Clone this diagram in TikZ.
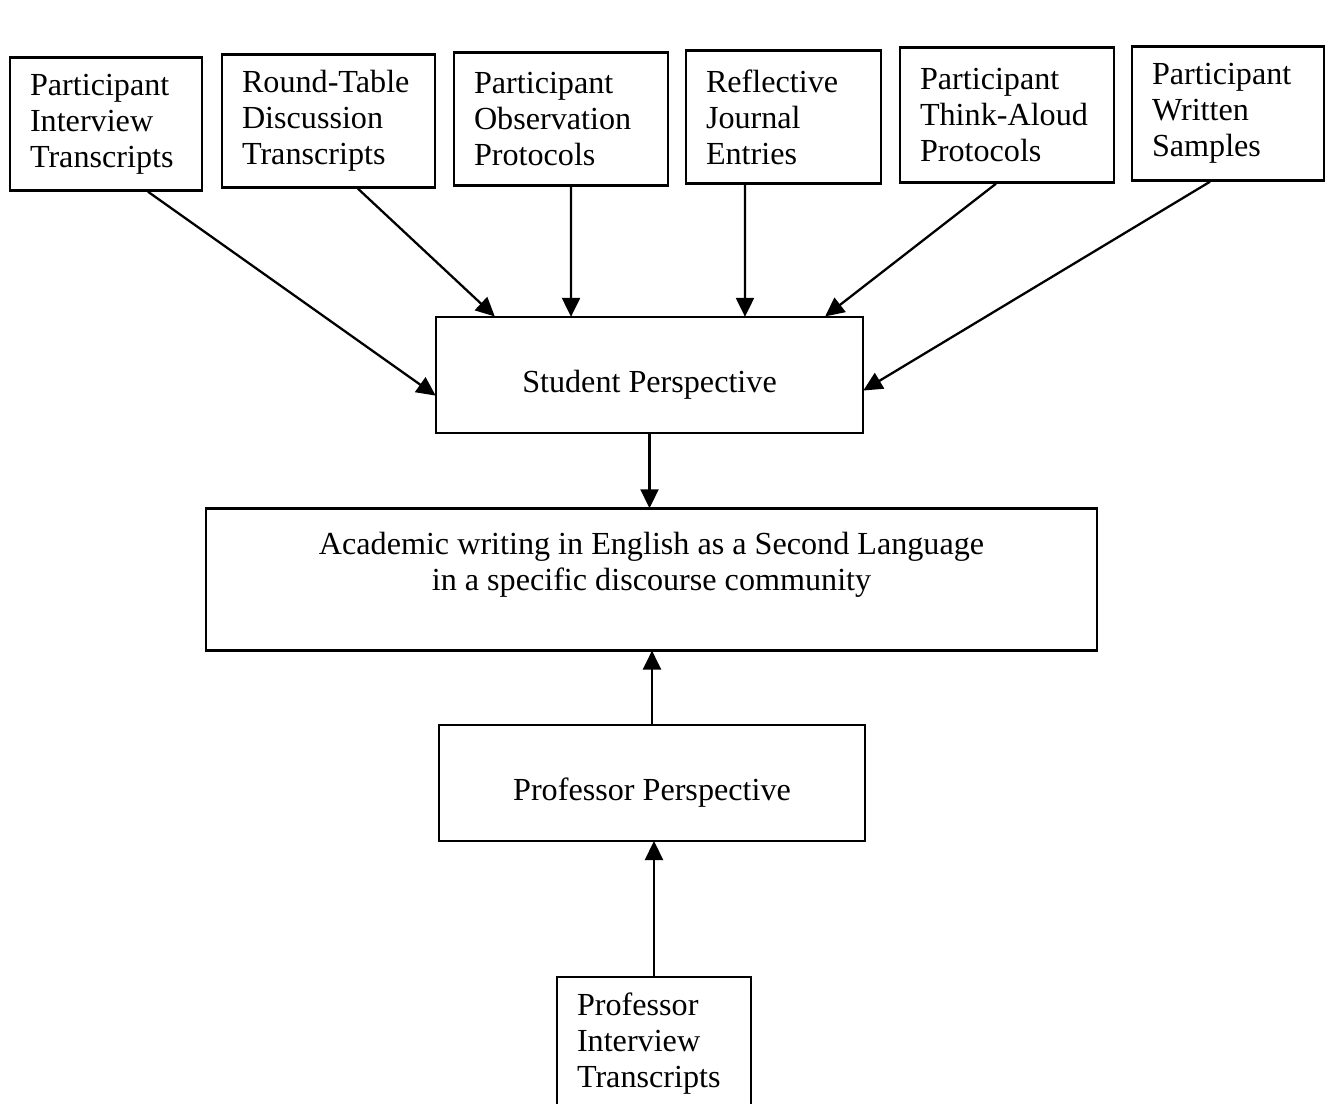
\documentclass[tikz,border=0pt]{standalone}
\usepackage{fontspec}
\setmainfont{Liberation Serif}
\usetikzlibrary{positioning,arrows.meta}

\begin{document}
\begin{tikzpicture}[x=0.02cm,y=-0.02cm]

	\tikzstyle{source}=[fill=white,draw=black,line width=1.4pt,
		align=left,inner xsep=0.4cm,minimum height=2.66cm,
		font=\fontsize{18.3}{20.5}\selectfont]
	\tikzstyle{view}=[fill=white,draw=black,line width=1.4pt,
		align=center,minimum width=8.54cm,minimum height=2.32cm,
		font=\fontsize{18.3}{20.5}\selectfont]
	\tikzstyle{lowtext}=[text height=24pt,text depth=4pt]
	\tikzstyle{feed}=[line width=1.3pt,shorten >=-0.6pt,
		-{Triangle[length=0.38cm,width=0.36cm]}]

	\useasboundingbox (0,0) rectangle (1326,1104);
	\clip (0,0) rectangle (1326,1104);

	% data sources
	\node[source,text width=3.04cm] (interview) at (106,124)
		{Participant\\Interview\\Transcripts};
	\node[source,text width=3.46cm] (roundtable) at (328.5,121)
		{Round-Table\\Discussion\\Transcripts};
	\node[source,text width=3.48cm] (observation) at (561,119)
		{Participant\\Observation\\Protocols};
	\node[source,text width=3.1cm] (journal) at (783.5,117)
		{Reflective\\Journal\\Entries};
	\node[source,text width=3.48cm,minimum height=2.7cm] (thinkaloud) at (1007,115)
		{Participant\\Think-Aloud\\Protocols};
	\node[source,text width=3.04cm,minimum height=2.68cm] (written) at (1228,113.5)
		{Participant\\Written\\Samples};

	% perspectives
	\node[view,lowtext] (student) at (649.5,375) {Student Perspective};
	\node[view,minimum width=17.82cm,minimum height=2.84cm,below=1.46cm of student,xshift=0.04cm] (academic)
		{Academic writing in English as a Second Language\\in a specific discourse community\\~};
	\node[view,lowtext,minimum width=8.52cm,below=1.44cm of academic,xshift=0.01cm] (professor) {Professor Perspective};
	\node[source,text width=3.08cm,below=2.68cm of professor,xshift=0.04cm] (profinterview)
		{Professor\\Interview\\Transcripts};

	\draw[feed] ([xshift=0.84cm]interview.south)  -- ([yshift=-0.4cm]student.west);
	\draw[feed] ([xshift=0.59cm]roundtable.south) -- ([xshift=-3.11cm]student.north);
	\draw[feed] ([xshift=0.2cm]observation.south) -- ([xshift=-1.57cm]student.north);
	\draw[feed] ([xshift=-0.77cm]journal.south)   -- ([xshift=1.91cm]student.north);
	\draw[feed] ([xshift=-0.22cm]thinkaloud.south) -- ([xshift=3.53cm]student.north);
	\draw[feed] ([xshift=-0.36cm]written.south)   -- ([yshift=-0.3cm]student.east);

	\draw[feed] (student.south) -- (student.south |- academic.north);
	\draw[feed] (professor.north) -- (professor.north |- academic.south);
	\draw[feed] (profinterview.north) -- (profinterview.north |- professor.south);

\end{tikzpicture}
\end{document}
